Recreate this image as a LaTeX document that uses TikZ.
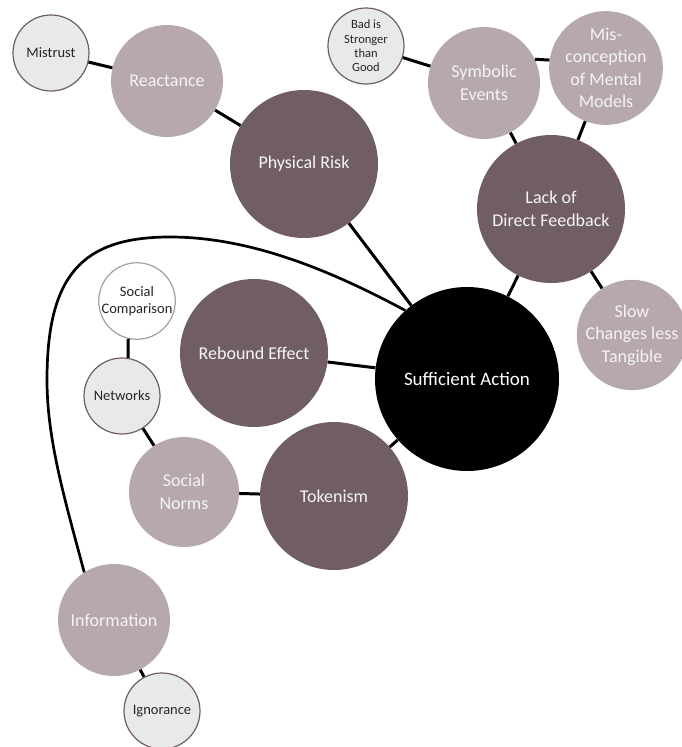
\documentclass[tikz,border=0pt]{standalone}
\usepackage{fontspec}
\setmainfont{Carlito}
\definecolor{darkm}{HTML}{705E62}
\definecolor{lightm}{HTML}{B6A8AC}
\definecolor{lgray}{HTML}{E8E9EB}
\definecolor{ringgray}{HTML}{A0A0A0}
\begin{document}
\begin{tikzpicture}[x=1pt,y=-1pt,
  bub/.style={circle, inner sep=0pt, align=center, text=white!96!black,
    font=\fontsize{18}{22.5}\selectfont},
  bigbub/.style={bub, fill=darkm, minimum size=148pt},
  midbub/.style={bub, fill=lightm, minimum size=112pt},
  smallbub/.style={circle, inner sep=0pt, align=center, fill=lgray, draw=darkm,
    line width=1.2pt, minimum size=76pt, text=black!85,
    font=\fontsize{14.5}{17}\selectfont},
  link/.style={line width=3pt, black},
]
\fill[white] (0,0) rectangle (681,747);
\useasboundingbox (0,0) rectangle (681,747);

% central goal
\node[bub, fill=black, minimum size=184pt, font=\fontsize{19}{23}\selectfont, text=white]
  (suff) at (467,379) {Sufficient Action};

% first ring of barriers
\node[bigbub] (phys) at (304,164) {Physical Risk};
\node[bigbub] (lack) at (551,209) {Lack of\\Direct Feedback};
\node[bigbub] (rebound) at (254,353) {Rebound Effect};
\node[bigbub] (token) at (334,496) {Tokenism};

% second ring
\node[midbub] (react) at (167,81) {Reactance};
\node[midbub] (sym) at (484,83) {Symbolic\\Events};
\node[midbub] (mis) at (606,68) {Mis-\\conception\\of Mental\\Models};
\node[midbub, minimum size=110pt] (slow) at (632,335) {Slow\\Changes less\\Tangible};
\node[midbub, minimum size=110pt] (norms) at (184,492) {Social\\Norms};
\node[midbub] (info) at (114,620) {Information};

% outer causes
\node[smallbub] (mistrust) at (51,53) {Mistrust};
\node[smallbub, font=\fontsize{12.5}{14.3}\selectfont] (bad) at (366,46) {Bad is\\Stronger\\than\\Good};
\node[smallbub, fill=white, draw=ringgray] (comp) at (137,301) {Social\\Comparison};
\node[smallbub] (net) at (122,396) {Networks};
\node[smallbub] (ign) at (162,711) {Ignorance};

% connectors
\draw[link] (mistrust) -- (react);
\draw[link] (react) -- (phys);
\draw[link] (phys) -- (suff);
\draw[link] (bad) -- (sym);
\draw[link] (sym.25) -- (mis.172);
\draw[link] (sym) -- (lack);
\draw[link] (mis) -- (lack);
\draw[link] (lack) -- (suff);
\draw[link] (lack) -- (slow);
\draw[link] (rebound) -- (suff);
\draw[link] (token) -- (suff);
\draw[link] (norms) -- (token);
\draw[link] (comp.257) -- (net.81);
\draw[link] (net) -- (norms);
\draw[link] (info) -- (ign);

% long arc from Information round to the central goal
\draw[link, line width=2.7pt] (info.122) .. controls (65,500) and (47,440) .. (47,380)
  .. controls (47,275) and (82,237) .. (170,237)
  .. controls (250,237) and (330,270) .. (suff.132);
\end{tikzpicture}
\end{document}
